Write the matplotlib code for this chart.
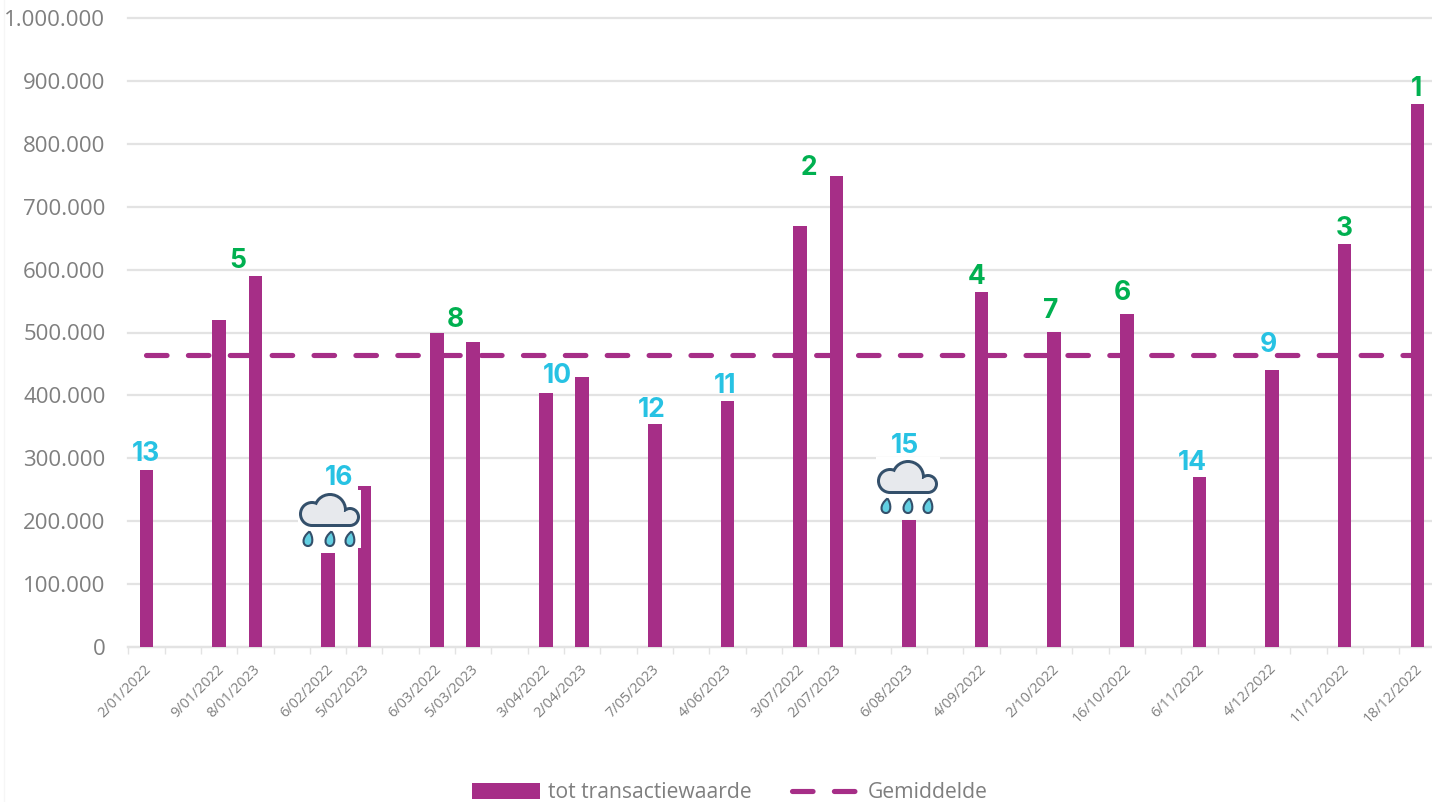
import matplotlib
matplotlib.use("Agg")
import matplotlib.pyplot as plt
from matplotlib.patches import Circle, Rectangle, PathPatch
from matplotlib.path import Path
from matplotlib.ticker import FuncFormatter
from matplotlib.transforms import ScaledTranslation

W, H = 1432, 802
plt.rcParams['font.family'] = ['Open Sans', 'DejaVu Sans']

categories = ["2/01/2022", "", "9/01/2022", "8/01/2023", "", "6/02/2022", "5/02/2023", "",
              "6/03/2022", "5/03/2023", "", "3/04/2022", "2/04/2023", "", "7/05/2023", "",
              "4/06/2023", "", "3/07/2022", "2/07/2023", "", "6/08/2023", "", "4/09/2022", "",
              "2/10/2022", "", "16/10/2022", "", "6/11/2022", "", "4/12/2022", "",
              "11/12/2022", "", "18/12/2022"]
values = [281000, 0, 520000, 590000, 0, 149000, 256000, 0,
          499000, 485000, 0, 404000, 429000, 0, 354000, 0,
          391000, 0, 669000, 749000, 0, 202000, 0, 564000, 0,
          501000, 0, 529000, 0, 270000, 0, 440000, 0,
          640000, 0, 863000]
average = 465000
ranks = [13, 5, 16, 8, 10, 12, 11, 2, 15, 4, 7, 6, 14, 9, 3, 1]
rank_x = [146, 238, 339, 455, 557, 652, 725, 809, 905, 977, 1051, 1122, 1192, 1268, 1344, 1416]
rank_y = [454, 261, 478, 320, 376, 410, 386, 168, 446, 277, 311, 293, 463, 345, 229, 89]
rank_color = ['#27C2E3', '#00B050', '#27C2E3', '#00B050', '#27C2E3', '#27C2E3', '#27C2E3', '#00B050',
              '#27C2E3', '#00B050', '#00B050', '#00B050', '#27C2E3', '#27C2E3', '#00B050', '#00B050']

PURPLE = '#A62E87'
GREY = '#7F7F7F'
GRID = '#E3E3E3'

fig = plt.figure(figsize=(W / 100, H / 100), dpi=100, facecolor='white')
left, right, top, bottom = 128.3, 1432, 18, 647
ax = fig.add_axes([left / W, 1 - bottom / H, (right - left) / W, (bottom - top) / H])
step = 36.31
x = list(range(len(categories)))
bars = ax.bar(x, values, width=13.5 / step, color=PURPLE, zorder=3, label='tot transactiewaarde')
line, = ax.plot([x[0], x[-1]], [average, average], color=PURPLE, lw=3.7, dashes=(4.0, 4.15),
                zorder=4, label='Gemiddelde', dash_capstyle='round')
ax.set_xlim(-0.5, -0.5 + (right - left) / step)
ax.set_ylim(0, 1000000)
ax.set_yticks(range(0, 1000001, 100000))
ax.yaxis.set_major_formatter(FuncFormatter(lambda v, _: f"{int(v):,}".replace(',', '.')))
ax.grid(axis='y', color=GRID, lw=1.6, zorder=0, clip_on=False)
for gl in ax.get_ygridlines():
    gl.set_clip_on(False)
ax.set_axisbelow(True)
for s in ['top', 'right', 'left']:
    ax.spines[s].set_visible(False)
ax.spines['bottom'].set_color(GRID)
ax.spines['bottom'].set_linewidth(1.6)
ax.tick_params(axis='y', length=0, labelsize=16, labelcolor=GREY, pad=16.5)
ax.set_xticks([i - 0.5 for i in x])
ax.set_xticklabels([])
ax.tick_params(axis='x', length=5, width=1.0, color=GRID)
ax.set_xticks(x, minor=True)
ax.set_xticklabels(categories, minor=True, rotation=45, ha='right', va='top', rotation_mode='anchor',
                   fontsize=10.4, color=GREY)
ax.tick_params(axis='x', which='minor', length=0, pad=10.5)
shift = ScaledTranslation(-2 / 72, 0, fig.dpi_scale_trans)
for lab in ax.get_xticklabels(minor=True):
    lab.set_transform(lab.get_transform() + shift)

ov = fig.add_axes([0, 0, 1, 1], facecolor='none', zorder=5)
ov.set_xlim(0, W)
ov.set_ylim(H, 0)
ov.axis('off')
ov.plot([4, 4], [0, H], color='#F6F6F6', lw=1)


def cloud(dx, dy, box):
    edge = '#34506B'
    fill = '#E7E9ED'
    th = 3
    ov.add_patch(Rectangle((box[0], box[1]), box[2], box[3], fc='white', ec='none', zorder=1))
    shapes = [(330 + dx, 510 + dy, 17), (312 + dx, 514 + dy, 13), (350 + dx, 517 + dy, 10)]
    rx, ry, rw, rh = 312 + dx, 512 + dy, 38, 15
    for cx, cy, r in shapes:
        ov.add_patch(Circle((cx, cy), r, fc=edge, ec='none', zorder=2))
    ov.add_patch(Rectangle((rx, ry), rw, rh, fc=edge, ec='none', zorder=2))
    for cx, cy, r in shapes:
        ov.add_patch(Circle((cx, cy), r - th, fc=fill, ec='none', zorder=3))
    ov.add_patch(Rectangle((rx, ry), rw, rh - th, fc=fill, ec='none', zorder=3))
    for cx in (308 + dx, 330 + dx, 350 + dx):
        cy = 539 + dy
        verts = [(cx + 1.5, cy - 7.5), (cx - 7, cy - 1), (cx - 5.5, cy + 7), (cx, cy + 7),
                 (cx + 5.5, cy + 7), (cx + 5.5, cy - 2), (cx + 1.5, cy - 7.5)]
        codes = [Path.MOVETO, Path.CURVE4, Path.CURVE4, Path.CURVE4, Path.CURVE4, Path.CURVE4, Path.CURVE4]
        ov.add_patch(PathPatch(Path(verts, codes), fc='#62CFE2', ec=edge, lw=1.5, zorder=4))


cloud(0, 0, (298, 490, 63, 58))
cloud(578, -33, (876, 457, 64, 60))

for n, rx, ry, c in zip(ranks, rank_x, rank_y, rank_color):
    ov.text(rx, ry, str(n), color=c, fontsize=19, fontweight='bold', family=['Inter', 'DejaVu Sans'],
            ha='center', va='center', zorder=6)

leg = fig.legend(handles=[bars, line], labels=['tot transactiewaarde', 'Gemiddelde'], loc='center',
                 bbox_to_anchor=(730 / W, 1 - 793 / H), ncol=2, frameon=False, fontsize=15.2,
                 labelcolor=GREY, handlelength=3.2, handleheight=0.75, handletextpad=0.38,
                 columnspacing=1.95, borderpad=0)
fig.savefig('out.png', dpi=100)
